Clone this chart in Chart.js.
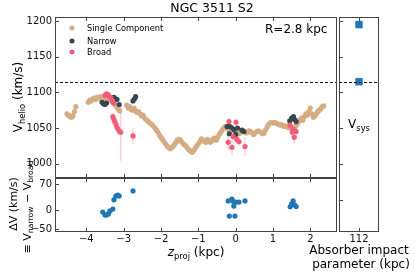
<!DOCTYPE html>
<html>
<head>
<meta charset="utf-8">
<script src="https://cdn.jsdelivr.net/npm/chart.js@4.4.1/dist/chart.umd.min.js"></script>
<style>
body { margin: 0; background: #fff; font-family: "DejaVu Sans", sans-serif; color: #000; }
#fig { position: relative; width: 415px; height: 274px; overflow: hidden; }
#fig canvas { position: absolute; left: 0; top: 0; }
.t { position: absolute; white-space: nowrap; line-height: 1; }
.ctr { transform: translate(-50%, -50%); }
.rot { transform: translate(-50%, -50%) rotate(-90deg); }
.rt { transform: translate(-100%, -50%); font-size: 10px; color: #111; }
sub { font-size: 70%; vertical-align: -0.3em; line-height: 0; }
.dot { position: absolute; width: 5px; height: 5px; border-radius: 50%; transform: translate(-50%, -50%); }
</style>
</head>
<body>
<div id="fig">
  <canvas id="top" width="415" height="274"></canvas>
  <canvas id="bot" width="415" height="274"></canvas>
  <canvas id="side" width="415" height="274"></canvas>

  <div class="t ctr" style="left:212px;top:8px;font-size:12.5px">NGC 3511 S2</div>
  <div class="t" style="left:265px;top:23px;font-size:12px">R=2.8 kpc</div>

  <div class="dot" style="left:72px;top:28px;background:#d4ad84"></div>
  <div class="t" style="left:87px;top:24px;font-size:8.3px">Single Component</div>
  <div class="dot" style="left:72px;top:41px;background:#37474f"></div>
  <div class="t" style="left:87px;top:37px;font-size:8.3px">Narrow</div>
  <div class="dot" style="left:72px;top:52px;background:#f55b78"></div>
  <div class="t" style="left:87px;top:48px;font-size:8.3px">Broad</div>

  <div class="t rot" style="left:18px;top:97px;font-size:12px">V<sub>helio</sub> (km/s)</div>
  <div class="t rot" style="left:13px;top:204px;font-size:11px">ΔV (km/s)</div>
  <div class="t rot" style="left:27px;top:207px;font-size:11px">≡ V<sub>narrow</sub> − V<sub>broad</sub></div>

  <div class="t ctr" style="left:196px;top:252px;font-size:12px"><i>z</i><sub>proj</sub> (kpc)</div>
  <div class="t ctr" style="left:359px;top:250px;font-size:12px">Absorber impact</div>
  <div class="t ctr" style="left:361px;top:264px;font-size:12px">parameter (kpc)</div>
  <div class="t ctr" style="left:359px;top:124px;font-size:12px">V<sub>sys</sub></div>
</div>

<script>
// single component velocities along the slit
const zSingle = [-4.52,-4.48,-4.44,-4.40,-4.36,-4.32,-4.28,
  -3.95,-3.91,-3.87,-3.83,-3.79,-3.75,-3.71,-3.67,-3.63,-3.59,-3.55,-3.51,-3.47,-3.43,-3.39,-3.35,-3.31,-3.27,-3.23,-3.19,-3.15,-3.11,
  -2.92,-2.88,-2.84,-2.80,-2.76,-2.72,-2.68,-2.64,-2.60,-2.56,-2.52,-2.48,-2.44,-2.40,-2.36,-2.32,-2.28,-2.24,-2.20,-2.16,-2.12,-2.08,-2.04,-2.00,
  -1.96,-1.92,-1.88,-1.84,-1.80,-1.76,-1.72,-1.68,-1.64,-1.60,-1.56,-1.52,-1.48,-1.44,-1.40,-1.36,-1.32,-1.28,-1.24,-1.20,-1.16,-1.12,-1.08,-1.04,-1.00,
  -0.96,-0.92,-0.88,-0.84,-0.80,-0.76,-0.72,-0.68,-0.64,-0.60,-0.56,-0.52,-0.48,-0.44,-0.40,-0.36,-0.32,-0.28,-0.24,-0.20,-0.16,-0.12,-0.08,-0.04,
  0.00,0.04,0.08,0.12,0.16,0.20,0.24,0.28,0.32,0.36,0.40,0.44,0.48,0.52,0.56,0.60,0.64,0.68,0.72,0.76,0.80,0.84,0.88,0.92,0.96,
  1.00,1.04,1.08,1.12,1.16,1.20,1.24,1.28,1.32,1.36,1.40,1.44,1.48,1.52,1.56,1.60,1.64,1.68,1.72,1.76,1.80,1.84,1.88,1.92,1.96,
  2.00,2.04,2.08,2.12,2.16,2.20,2.24,2.28,2.32,2.36];
const vSingle = [1070,1068,1066,1065,1067,1073,1080,
  1086,1089,1088,1091,1092,1090,1093,1092,1094,1093,1091,1090,1092,1091,1090,1089,1087,1085,1083,1080,1077,1074,
  1082,1078,1080,1076,1075,1078,1074,1072,1073,1070,1067,1068,1064,1062,1060,1058,1056,1055,1052,1050,1047,1044,1040,1037,
  1034,1031,1028,1025,1023,1021,1022,1024,1027,1030,1033,1034,1033,1030,1028,1026,1024,1021,1019,1017,1016,1019,1022,1025,1028,
  1031,1035,1033,1031,1030,1034,1032,1030,1032,1035,1036,1033,1037,1041,1044,1047,1050,1052,1050,1048,1050,1048,1047,1046,
  1045,1044,1042,1043,1045,1046,1045,1043,1044,1046,1045,1043,1041,1043,1045,1046,1045,1044,1042,1043,1047,1051,1055,1057,1058,
  1057,1058,1057,1056,1055,1054,1055,1053,1052,1053,1051,1050,1051,1049,1050,1052,1055,1058,1062,1064,1061,1066,1070,1068,1073,
  1078,1070,1065,1067,1070,1073,1075,1077,1080,1081];

// two-component fits
const zNarrow = [-3.58,-3.54,-3.50,-3.46,-3.30,-3.26,-3.22,-3.18,-3.12,-2.75,-2.71,-2.68,
  -0.23,-0.18,-0.12,-0.05,0.05,0.17,-0.17,0.00,0.22,1.45,1.50,1.55,1.58,1.62];
const vNarrow = [1086,1084,1083,1085,1092,1093,1091,1090,1083,1088,1091,1094,
  1052,1053,1051,1048,1050,1047,1042,1041,1045,1060,1064,1066,1062,1059];

const zBroad = [-3.50,-3.46,-3.42,-3.38,-3.34,-3.30,-3.27,-3.29,-3.26,-3.23,-3.20,-3.17,-3.12,-3.08,-2.75,
  -0.18,0.01,-0.20,-0.07,0.03,0.09,-0.10,0.25,1.46,1.54,1.62,1.52,1.57];
const vBroad = [1096,1098,1097,1094,1092,1088,1085,1066,1062,1058,1054,1050,1046,1044,1039,
  1059,1058,1030,1038,1034,1031,1023,1024,1054,1048,1045,1044,1037];
const errBroad = [3,3,3,3,3,3,3,4,4,4,4,4,5,40,11,5,5,10,6,6,6,10,13,4,5,5,6,8];

// narrow minus broad
const zDelta = [-3.56,-3.50,-3.46,-3.41,-3.37,-3.29,-3.26,-3.21,-3.16,-3.12,-2.75,
  -0.20,-0.10,-0.07,0.01,0.09,0.25,-0.05,-0.17,-0.02,1.46,1.50,1.54,1.58,1.62];
const dV = [-5,-13,-13,-10,-2,3,28,38,41,38,52,
  25,30,24,22,22,25,11,-16,-16,9,17,25,14,10];

// absorber panel
const impactParam = [112, 112];
const vAbsorber = [1195, 1115];
const vSys = 1115;

const zTicks = [-4, -3, -2, -1, 0, 1, 2];
const vTicks = [1000, 1050, 1100, 1150, 1200];
const dvTicks = [-50, 0, 70];
const sideVTicks = [950, 1000, 1050, 1100, 1150, 1200];
const impactTicks = [112];

const pts = (xs, ys) => xs.map((x, i) => ({ x, y: ys[i] }));
const fmt = v => (v < 0 ? '\u2212' : '') + Math.abs(v);

// frame, inward ticks, Vsys line and error bars
const framePlugin = {
  id: 'frame',
  beforeDatasetsDraw(chart, args, o) {
    if (!o.err) return;
    const { ctx, scales: { x, y } } = chart;
    ctx.save();
    ctx.strokeStyle = 'rgba(245,91,120,0.35)';
    ctx.lineWidth = 1.2;
    zBroad.forEach((z, i) => {
      const px = x.getPixelForValue(z);
      ctx.beginPath();
      ctx.moveTo(px, y.getPixelForValue(vBroad[i] - errBroad[i]));
      ctx.lineTo(px, y.getPixelForValue(vBroad[i] + errBroad[i]));
      ctx.stroke();
    });
    ctx.restore();
  },
  afterDraw(chart, args, o) {
    const { ctx, chartArea: a, scales: { x, y } } = chart;
    ctx.save();
    if (o.hline != null) {
      const py = Math.round(y.getPixelForValue(o.hline)) + 0.5;
      ctx.strokeStyle = '#111';
      ctx.setLineDash([3, 2]);
      ctx.beginPath(); ctx.moveTo(a.left, py); ctx.lineTo(a.right, py); ctx.stroke();
      ctx.setLineDash([]);
    }
    ctx.strokeStyle = '#444';
    ctx.lineWidth = 1;
    const L = Math.round(a.left) + 0.5, R = Math.round(a.right) - 0.5;
    const T = Math.round(a.top) + 0.5, B = Math.round(a.bottom) - 0.5;
    ctx.strokeRect(L, T, R - L, B - T);
    ctx.beginPath();
    (o.xTicks || []).forEach(v => {
      const px = Math.round(x.getPixelForValue(v)) + 0.5;
      ctx.moveTo(px, B); ctx.lineTo(px, B - 3.5);
      ctx.moveTo(px, T); ctx.lineTo(px, T + 3.5);
    });
    (o.yTicks || []).forEach(v => {
      const py = Math.round(y.getPixelForValue(v)) + 0.5;
      ctx.moveTo(L, py); ctx.lineTo(L + 3.5, py);
    });
    ctx.stroke();
    ctx.restore();
  }
};

function axis(min, max, ticks, show, size, horiz) {
  return {
    type: 'linear', min, max, display: show,
    grid: { display: false, drawTicks: false },
    border: { display: false },
    afterBuildTicks: s => { s.ticks = ticks.map(v => ({ value: v })); },
    afterFit: s => { if (horiz) s.height = size; else s.width = size; },
    ticks: {
      color: '#111', padding: horiz ? 1 : 3, autoSkip: false, maxRotation: 0,
      font: { family: 'DejaVu Sans', size: 10 },
      callback: v => fmt(v)
    }
  };
}

const base = {
  responsive: false, animation: false, devicePixelRatio: 1,
  plugins: { legend: { display: false }, tooltip: { enabled: false } }
};

const dot = (color, order) => ({
  backgroundColor: color, borderWidth: 0, pointRadius: 2.6, order
});

new Chart(document.getElementById('top'), {
  type: 'scatter',
  data: { datasets: [
    { label: 'Broad', data: pts(zBroad, vBroad), ...dot('#f55b78', 1) },
    { label: 'Narrow', data: pts(zNarrow, vNarrow), ...dot('#37474f', 2) },
    { label: 'Single Component', data: pts(zSingle, vSingle), ...dot('#d4ad84', 3) }
  ]},
  options: {
    ...base,
    layout: { padding: { left: 0, top: 17, right: 78, bottom: 96 } },
    plugins: { ...base.plugins, frame: { xTicks: zTicks, yTicks: vTicks, hline: vSys, err: true } },
    scales: {
      x: axis(-4.84, 2.715, zTicks, false, 0, true),
      y: axis(980, 1205.6, vTicks, true, 55, false)
    }
  },
  plugins: [framePlugin]
});

// bottom panel: y tick labels placed as text from the chart's own y scale
const botY = axis(-59, 87, dvTicks, true, 55, false);
botY.ticks.display = false;
const bot = new Chart(document.getElementById('bot'), {
  type: 'scatter',
  data: { datasets: [
    { label: 'ΔV', data: pts(zDelta, dV), ...dot('#1f77b4', 1) }
  ]},
  options: {
    ...base,
    layout: { padding: { left: 0, top: 178, right: 78, bottom: 26 } },
    plugins: { ...base.plugins, frame: { xTicks: zTicks, yTicks: dvTicks } },
    scales: {
      x: axis(-4.84, 2.715, zTicks, true, 16, true),
      y: botY
    }
  },
  plugins: [framePlugin]
});
const fig = document.getElementById('fig');
dvTicks.forEach(v => {
  const d = document.createElement('div');
  d.className = 't rt';
  d.style.left = (bot.chartArea.left - 3) + 'px';
  d.style.top = bot.scales.y.getPixelForValue(v) + 'px';
  d.textContent = fmt(v);
  fig.appendChild(d);
});

new Chart(document.getElementById('side'), {
  type: 'scatter',
  data: { datasets: [
    { label: 'Absorber', data: pts(impactParam, vAbsorber), pointStyle: 'rect',
      backgroundColor: '#1f77b4', borderColor: 'rgba(31,119,180,0.35)', borderWidth: 1, pointRadius: 5 }
  ]},
  options: {
    ...base,
    layout: { padding: { left: 339, top: 17, right: 36, bottom: 26 } },
    plugins: { ...base.plugins, frame: { xTicks: impactTicks, yTicks: sideVTicks, hline: vSys } },
    scales: {
      x: axis(111, 113, impactTicks, true, 16, true),
      y: axis(904.5, 1205.6, sideVTicks, false, 0, false)
    }
  },
  plugins: [framePlugin]
});
</script>
</body>
</html>
